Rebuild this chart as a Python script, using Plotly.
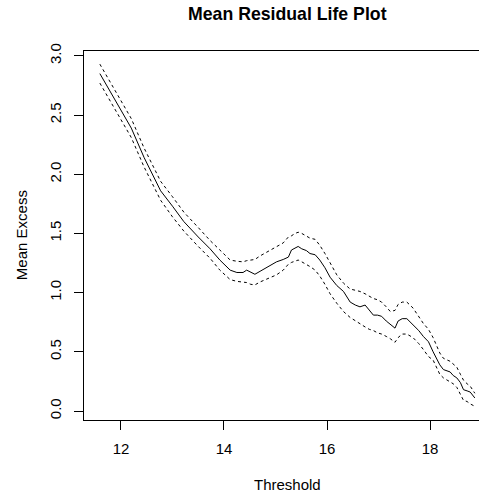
import plotly.graph_objects as go

threshold = [11.59, 11.8, 12.0, 12.2, 12.45, 12.77, 13.0, 13.22, 13.5, 13.73, 13.92, 14.12,
             14.25, 14.37, 14.44, 14.52, 14.60, 14.70, 14.80, 14.92, 15.02, 15.15, 15.25,
             15.31, 15.38, 15.44, 15.51, 15.60, 15.67, 15.77, 15.86, 15.96, 16.06, 16.19,
             16.32, 16.45, 16.55, 16.64, 16.74, 16.82, 16.90, 16.98, 17.06, 17.15, 17.23,
             17.32, 17.38, 17.46, 17.55, 17.67, 17.78, 17.87, 17.97, 18.06, 18.19, 18.26,
             18.39, 18.45, 18.52, 18.59, 18.65, 18.72, 18.78, 18.87]

mean_excess = [2.85, 2.69, 2.54, 2.39, 2.14, 1.86, 1.73, 1.60, 1.47, 1.37, 1.275, 1.19,
               1.17, 1.17, 1.19, 1.175, 1.155, 1.18, 1.205, 1.23, 1.26, 1.28, 1.30,
               1.36, 1.375, 1.39, 1.37, 1.355, 1.33, 1.32, 1.275, 1.21, 1.13, 1.06,
               1.01, 0.92, 0.895, 0.88, 0.895, 0.85, 0.81, 0.81, 0.80, 0.76, 0.73,
               0.70, 0.76, 0.78, 0.78, 0.73, 0.68, 0.63, 0.585, 0.50, 0.39, 0.35,
               0.33, 0.30, 0.28, 0.24, 0.18, 0.17, 0.16, 0.11]

upper = [2.93, 2.77, 2.62, 2.47, 2.22, 1.94, 1.81, 1.68, 1.55, 1.44, 1.36, 1.275,
         1.265, 1.26, 1.27, 1.275, 1.28, 1.31, 1.335, 1.36, 1.39, 1.42, 1.47,
         1.48, 1.50, 1.51, 1.50, 1.48, 1.46, 1.45, 1.40, 1.33, 1.25, 1.15,
         1.08, 1.03, 1.02, 1.01, 0.99, 0.97, 0.95, 0.94, 0.92, 0.88, 0.84,
         0.85, 0.90, 0.92, 0.92, 0.87, 0.80, 0.74, 0.69, 0.62, 0.49, 0.445,
         0.42, 0.40, 0.37, 0.31, 0.26, 0.23, 0.21, 0.15]

lower = [2.77, 2.61, 2.46, 2.31, 2.06, 1.78, 1.64, 1.52, 1.39, 1.29, 1.19, 1.11,
         1.095, 1.09, 1.085, 1.07, 1.065, 1.09, 1.11, 1.13, 1.15, 1.19, 1.24,
         1.255, 1.265, 1.275, 1.26, 1.24, 1.22, 1.19, 1.14, 1.07, 0.99, 0.91,
         0.84, 0.79, 0.76, 0.74, 0.71, 0.69, 0.68, 0.66, 0.65, 0.63, 0.61,
         0.58, 0.62, 0.65, 0.65, 0.62, 0.57, 0.52, 0.46, 0.43, 0.31, 0.28,
         0.25, 0.23, 0.20, 0.14, 0.09, 0.08, 0.06, 0.04]

x_ticks = [12, 14, 16, 18]
y_ticks = [0.0, 0.5, 1.0, 1.5, 2.0, 2.5, 3.0]
y_tick_text = ["0.0", "0.5", "1.0", "1.5", "2.0", "2.5", "3.0"]

FONT = "Liberation Sans, Arial, Helvetica, sans-serif"

fig = go.Figure()
fig.add_trace(go.Scatter(x=threshold, y=mean_excess, mode="lines",
                         line=dict(color="black", width=1), showlegend=False))
for band in (upper, lower):
    fig.add_trace(go.Scatter(x=threshold, y=band, mode="lines",
                             line=dict(color="black", width=1, dash="3px,3px"),
                             showlegend=False))

fig.update_layout(
    width=479, height=495,
    margin=dict(l=84, r=0, t=51, b=75),
    paper_bgcolor="white", plot_bgcolor="white",
    font=dict(family=FONT, size=15, color="black"),
    xaxis=dict(range=[11.282, 18.951], tickvals=x_ticks, ticks="outside", ticklen=9,
               tickcolor="black", showline=True, linecolor="black", linewidth=1,
               mirror=True, showgrid=False, zeroline=False, ticklabelstandoff=6,
               tickfont=dict(size=15)),
    yaxis=dict(range=[-0.076, 3.041], tickvals=y_ticks, ticktext=y_tick_text,
               ticks="outside", ticklen=9, tickcolor="black", tickangle=-90,
               showline=True, linecolor="black", linewidth=1, mirror=False,
               showgrid=False, zeroline=False, ticklabelstandoff=7,
               tickfont=dict(size=15)),
    annotations=[
        dict(text="<b>Mean Residual Life Plot</b>", xref="paper", yref="paper",
             x=0.514, y=1.1003, xanchor="center", yanchor="middle", showarrow=False,
             font=dict(size=17.7, family=FONT)),
        dict(text="Threshold", xref="paper", yref="paper", x=0.514, y=-0.176,
             xanchor="center", yanchor="middle", showarrow=False, font=dict(size=15)),
        dict(text="Mean Excess", xref="paper", yref="paper", x=-0.1595, y=0.501,
             xanchor="center", yanchor="middle", showarrow=False, textangle=-90,
             font=dict(size=15)),
    ],
)

fig.write_html("out.html")
